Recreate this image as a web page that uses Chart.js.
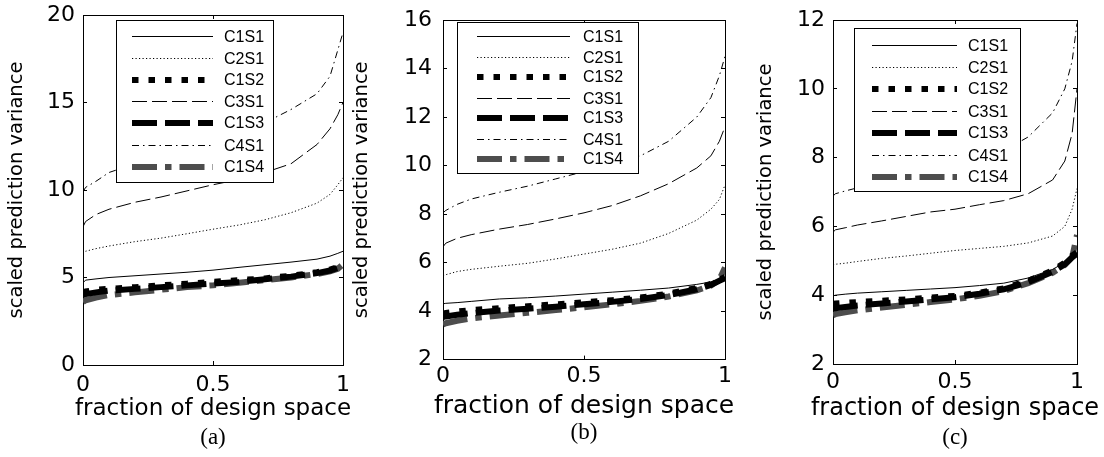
<!DOCTYPE html>
<html>
<head>
<meta charset="utf-8">
<script src="https://cdn.jsdelivr.net/npm/chart.js@4.4.1/dist/chart.umd.min.js"></script>
<style>
  html, body { margin: 0; padding: 0; background: #fff; }
  body { width: 1104px; height: 457px; position: relative; overflow: hidden; }
  canvas { position: absolute; top: 0; }
</style>
</head>
<body>
<canvas id="chartA" width="426" height="457" style="left:0px"></canvas>
<canvas id="chartB" width="478" height="457" style="left:345px"></canvas>
<canvas id="chartC" width="420" height="457" style="left:745px"></canvas>
<script>
// fraction of design space where each curve was read
const fraction = [0, 0.01, 0.05, 0.1, 0.2, 0.3, 0.4, 0.5, 0.6, 0.7, 0.8, 0.9, 0.95, 0.98, 1];
const seriesNames = ['C1S1', 'C2S1', 'C1S2', 'C3S1', 'C1S3', 'C4S1', 'C1S4'];
const captions = ['(a)', '(b)', '(c)'];
const xTicks = [0, 0.5, 1];
const yTicksA = [0, 5, 10, 15, 20];
const yTicksB = [2, 4, 6, 8, 10, 12, 14, 16];
const yTicksC = [2, 4, 6, 8, 10, 12];

// panel (a)
const aC1S1 = [4.7, 4.85, 4.92, 5.0, 5.1, 5.2, 5.3, 5.42, 5.58, 5.73, 5.88, 6.05, 6.22, 6.38, 6.5];
const aC2S1 = [6.35, 6.5, 6.65, 6.8, 7.05, 7.25, 7.5, 7.76, 8.0, 8.3, 8.7, 9.25, 9.75, 10.3, 10.7];
const aC1S2 = [4.15, 4.2, 4.3, 4.35, 4.45, 4.55, 4.65, 4.75, 4.85, 4.95, 5.1, 5.3, 5.45, 5.6, 5.75];
const aC3S1 = [7.9, 8.2, 8.6, 8.9, 9.3, 9.6, 9.95, 10.3, 10.6, 11.0, 11.5, 12.6, 13.5, 14.3, 15.0];
const aC1S3 = [4.0, 4.05, 4.15, 4.25, 4.35, 4.45, 4.55, 4.65, 4.75, 4.9, 5.05, 5.25, 5.4, 5.55, 5.7];
const aC4S1 = [9.9, 10.15, 10.5, 11.0, 11.5, 11.9, 12.35, 12.8, 13.25, 13.85, 14.6, 15.5, 16.5, 18.0, 19.0];
const aC1S4 = [3.6, 3.7, 3.85, 4.0, 4.15, 4.3, 4.45, 4.55, 4.7, 4.85, 5.0, 5.2, 5.35, 5.5, 5.75];

// panel (b)
const bC1S1 = [4.3, 4.32, 4.35, 4.4, 4.5, 4.55, 4.62, 4.7, 4.78, 4.86, 4.95, 5.1, 5.2, 5.3, 5.4];
const bC2S1 = [5.45, 5.5, 5.63, 5.72, 5.85, 5.97, 6.15, 6.35, 6.55, 6.8, 7.2, 7.75, 8.2, 8.6, 9.2];
const bC1S2 = [3.9, 3.92, 3.98, 4.04, 4.12, 4.2, 4.28, 4.36, 4.45, 4.56, 4.72, 4.95, 5.12, 5.3, 5.4];
const bC3S1 = [6.65, 6.8, 7.0, 7.15, 7.38, 7.57, 7.8, 8.05, 8.35, 8.75, 9.25, 9.9, 10.4, 11.0, 11.6];
const bC1S3 = [3.75, 3.78, 3.85, 3.92, 4.02, 4.1, 4.18, 4.28, 4.38, 4.5, 4.66, 4.9, 5.08, 5.25, 5.35];
const bC4S1 = [8.05, 8.15, 8.4, 8.62, 8.9, 9.15, 9.45, 9.75, 10.05, 10.4, 11.0, 12.0, 12.8, 13.7, 14.5];
const bC1S4 = [3.45, 3.5, 3.6, 3.7, 3.82, 3.93, 4.04, 4.16, 4.28, 4.42, 4.6, 4.85, 5.05, 5.3, 5.8];

// panel (c)
const cC1S1 = [3.98, 4.0, 4.03, 4.06, 4.1, 4.14, 4.18, 4.22, 4.28, 4.35, 4.5, 4.75, 4.95, 5.1, 5.2];
const cC2S1 = [4.87, 4.9, 4.93, 4.98, 5.07, 5.14, 5.22, 5.3, 5.36, 5.42, 5.52, 5.72, 6.0, 6.5, 7.1];
const cC1S2 = [3.75, 3.76, 3.78, 3.8, 3.84, 3.88, 3.93, 3.98, 4.07, 4.2, 4.42, 4.72, 4.95, 5.15, 5.25];
const cC3S1 = [5.83, 5.9, 5.96, 6.04, 6.16, 6.29, 6.42, 6.5, 6.63, 6.75, 6.95, 7.35, 7.9, 8.7, 10.0];
const cC1S3 = [3.6, 3.62, 3.66, 3.7, 3.76, 3.82, 3.88, 3.94, 4.04, 4.17, 4.38, 4.68, 4.9, 5.1, 5.2];
const cC4S1 = [6.88, 6.95, 7.03, 7.12, 7.3, 7.45, 7.6, 7.75, 7.95, 8.2, 8.6, 9.3, 10.0, 10.8, 11.9];
const cC1S4 = [3.42, 3.45, 3.5, 3.56, 3.64, 3.72, 3.8, 3.88, 3.98, 4.12, 4.35, 4.65, 4.88, 5.1, 5.75];

Chart.defaults.font.family = '"DejaVu Sans", sans-serif';
Chart.defaults.color = '#000';

const lineStyles = {
  C1S1: { color: '#000', width: 1, dash: [] },
  C2S1: { color: '#000', width: 1, dash: [1.2, 2.3] },
  C1S2: { color: '#000', width: 6, dash: [6.5, 10] },
  C3S1: { color: '#000', width: 1, dash: [15, 5] },
  C1S3: { color: '#000', width: 6, dash: [25, 8] },
  C4S1: { color: '#000', width: 1, dash: [7, 4, 1.5, 4] },
  C1S4: { color: '#4d4d4d', width: 6, dash: [25, 8, 6.5, 8] }
};

// boxed legend inside the plot, like the matlab one
const boxLegend = {
  id: 'boxLegend',
  afterDatasetsDraw(chart, args, opts) {
    const { ctx, chartArea } = chart;
    const left = Math.round(chartArea.left + opts.dx);
    const top = Math.round(chartArea.top + opts.dy);
    ctx.save();
    ctx.fillStyle = '#fff';
    ctx.fillRect(left, top, opts.w, opts.h);
    ctx.strokeStyle = '#000';
    ctx.lineWidth = 1;
    ctx.strokeRect(left + 0.5, top + 0.5, opts.w, opts.h);
    ctx.font = '16px "Liberation Sans", Arial, sans-serif';
    ctx.textBaseline = 'middle';
    chart.data.datasets.forEach((ds, i) => {
      let y = Math.round(top + opts.first + i * opts.step);
      if (ds.borderWidth % 2) y += 0.5;
      ctx.beginPath();
      ctx.setLineDash(ds.borderDash);
      ctx.lineCap = 'butt';
      ctx.lineWidth = ds.borderWidth;
      ctx.strokeStyle = ds.borderColor;
      ctx.moveTo(left + opts.s0, y);
      ctx.lineTo(left + opts.s1, y);
      ctx.stroke();
      ctx.setLineDash([]);
      ctx.fillStyle = '#000';
      ctx.fillText(ds.label, left + opts.tx, Math.round(y) + 1);
    });
    ctx.restore();
  }
};

function makePanel(id, series, yTicks, caption, lay) {
  const tickGrid = { drawOnChartArea: false, drawTicks: true, tickLength: -4, color: '#000' };
  const frame = { display: true, color: '#000', width: 1 };
  new Chart(document.getElementById(id), {
    type: 'line',
    data: {
      datasets: seriesNames.map((name, i) => ({
        label: name,
        data: fraction.map((f, j) => ({ x: f, y: series[i][j] })),
        borderColor: lineStyles[name].color,
        borderWidth: lineStyles[name].width,
        borderDash: lineStyles[name].dash,
        borderCapStyle: 'butt',
        pointRadius: 0,
        tension: 0,
        fill: false
      }))
    },
    options: {
      responsive: false,
      animation: false,
      devicePixelRatio: 1,
      layout: { padding: { top: lay.top, right: 0, left: 0, bottom: 0 } },
      plugins: {
        legend: { display: false },
        tooltip: { enabled: false },
        // x axis title drawn as subtitle so it is not squeezed to the plot width
        subtitle: {
          display: true, position: 'bottom', text: 'fraction of design space', color: '#000',
          font: { size: lay.xTitleSize, weight: 'normal', lineHeight: 1.1 },
          padding: { top: 0, bottom: lay.xTitlePad }
        },
        title: {
          display: true, position: 'bottom', text: caption, color: '#000',
          font: { family: '"Liberation Serif", "Times New Roman", serif', size: 23, weight: 'normal', lineHeight: 1.1 },
          padding: { top: 0, bottom: lay.capPad }
        },
        boxLegend: lay.legend
      },
      scales: {
        x: {
          type: 'linear', position: 'bottom', min: 0, max: 1,
          afterBuildTicks: s => { s.ticks = xTicks.map(v => ({ value: v })); },
          afterFit: s => { s.height = lay.xH; s.paddingLeft = 0; s.paddingRight = 0; },
          grid: tickGrid, border: frame,
          ticks: { color: '#000', font: { size: 22 }, padding: lay.xTickPad, maxRotation: 0, autoSkip: false, callback: v => String(v) }
        },
        y: {
          type: 'linear', position: 'left', min: yTicks[0], max: yTicks[yTicks.length - 1],
          afterBuildTicks: s => { s.ticks = yTicks.map(v => ({ value: v })); },
          afterFit: s => { s.width = lay.yW; s.paddingTop = 0; s.paddingBottom = 0; },
          grid: tickGrid, border: frame,
          ticks: { color: '#000', font: { size: 22 }, padding: lay.yTickPad, autoSkip: false, callback: v => String(v) },
          title: { display: true, text: 'scaled prediction variance', color: '#000', font: { size: 19.5 }, padding: { top: lay.yTitlePad, bottom: 0 } }
        },
        x2: {
          type: 'linear', position: 'top', min: 0, max: 1,
          afterBuildTicks: s => { s.ticks = xTicks.map(v => ({ value: v })); },
          afterFit: s => { s.height = 0; s.paddingLeft = 0; s.paddingRight = 0; },
          grid: tickGrid, border: frame, ticks: { display: false }
        },
        y2: {
          type: 'linear', position: 'right', min: yTicks[0], max: yTicks[yTicks.length - 1],
          afterBuildTicks: s => { s.ticks = yTicks.map(v => ({ value: v })); },
          afterFit: s => { s.width = lay.right; s.paddingTop = 0; s.paddingBottom = 0; },
          grid: tickGrid, border: frame, ticks: { display: false }
        }
      }
    },
    plugins: [boxLegend]
  });
}

makePanel('chartA', [aC1S1, aC2S1, aC1S2, aC3S1, aC1S3, aC4S1, aC1S4], yTicksA, captions[0], {
  top: 15, right: 83, yW: 83, xH: 31.35, capPad: 6.35, xTitleSize: 23, xTitlePad: 3.7, xTickPad: 10.8, yTickPad: 12, yTitlePad: 4.8,
  legend: { dx: 33, dy: 5, w: 157, h: 162, first: 16, step: 21.8, s0: 16, s1: 97, tx: 108 }
});
makePanel('chartB', [bC1S1, bC2S1, bC1S2, bC3S1, bC1S3, bC4S1, bC1S4], yTicksB, captions[1], {
  top: 20, right: 98, yW: 98, xH: 33.25, capPad: 11.35, xTitleSize: 25, xTitlePad: 0, xTickPad: 7.8, yTickPad: 15, yTitlePad: 5.4,
  legend: { dx: 14, dy: 2, w: 181, h: 151, first: 14, step: 20.5, s0: 20, s1: 113, tx: 126 }
});
makePanel('chartC', [cC1S1, cC2S1, cC1S2, cC3S1, cC1S3, cC4S1, cC1S4], yTicksC, captions[2], {
  top: 20, right: 88, yW: 88, xH: 31.8, capPad: 6.35, xTitleSize: 24, xTitlePad: 3.15, xTickPad: 8.8, yTickPad: 12, yTitlePad: 9.4,
  legend: { dx: 21, dy: 8, w: 166, h: 163, first: 17, step: 22, s0: 18, s1: 103, tx: 114 }
});
</script>
</body>
</html>
